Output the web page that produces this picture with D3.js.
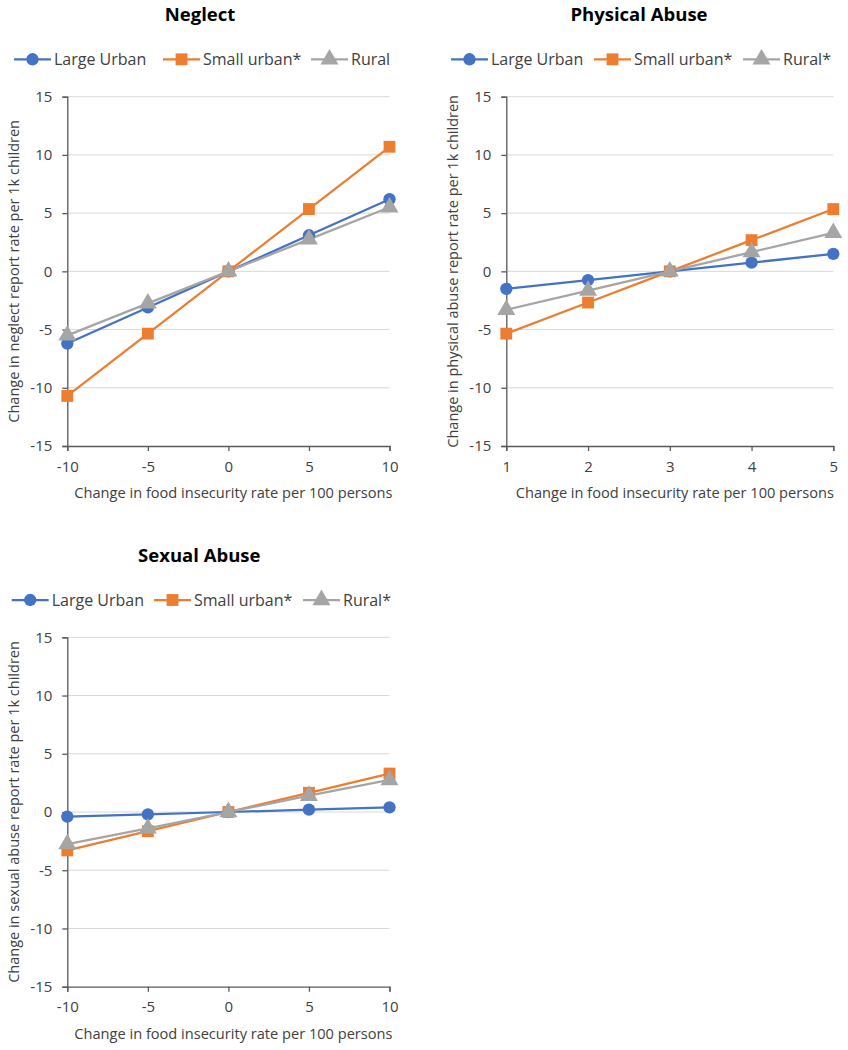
<!DOCTYPE html>
<html><head><meta charset="utf-8">
<script src="https://cdn.jsdelivr.net/npm/d3@7"></script>
<style>body{margin:0;background:#fff}svg{display:block}text{font-family:"Open Sans",sans-serif;fill:#404040}</style>
</head><body><svg id="c" width="848" height="1050"></svg>
<script>
const seriesNames = ["Large Urban", "Small urban*", "Rural"];
const seriesNamesStar = ["Large Urban", "Small urban*", "Rural*"];
const xNeglect = [-10, -5, 0, 5, 10];
const neglectLarge = [-6.2, -3.1, 0, 3.1, 6.2];
const neglectSmall = [-10.7, -5.35, 0, 5.35, 10.7];
const neglectRural = [-5.5, -2.75, 0, 2.75, 5.5];
const xPhysical = [1, 2, 3, 4, 5];
const physicalLarge = [-1.5, -0.75, 0, 0.75, 1.5];
const physicalSmall = [-5.35, -2.68, 0, 2.68, 5.35];
const physicalRural = [-3.3, -1.65, 0, 1.65, 3.3];
const xSexual = [-10, -5, 0, 5, 10];
const sexualLarge = [-0.4, -0.2, 0, 0.2, 0.4];
const sexualSmall = [-3.3, -1.65, 0, 1.65, 3.3];
const sexualRural = [-2.75, -1.4, 0, 1.4, 2.75];
const yTicks = [-15, -10, -5, 0, 5, 10, 15];

const colors = ["#4472C4", "#ED7D31", "#A5A5A5"];
const shapes = [d3.symbolCircle, d3.symbolSquare, d3.symbolTriangle];
const symSizes = [120, 140, 140];
const svg = d3.select("#c");
const fmt = d => String(d);

function panel(o) {
  const g = svg.append("g");
  const x = d3.scaleLinear().domain(d3.extent(o.xs)).range([o.left, o.right]);
  const y = d3.scaleLinear().domain([-15, 15]).range([o.bottom, o.top]);
  g.append("text").attr("x", o.titleX).attr("y", o.titleY).attr("text-anchor", "middle")
    .style("font-weight", "bold").style("font-size", "18.5px").style("fill", "#000").text(o.title);
  g.selectAll(".grid").data(yTicks.filter(t => t !== -15)).enter().append("line")
    .attr("x1", o.left).attr("x2", o.right).attr("y1", d => y(d)).attr("y2", d => y(d))
    .attr("stroke", "#D9D9D9").attr("stroke-width", 1);
  const ya = g.append("g").attr("transform", `translate(${o.left},0)`)
    .call(d3.axisLeft(y).tickValues(yTicks).tickSize(5).tickPadding(10).tickFormat(fmt));
  const xa = g.append("g").attr("transform", `translate(0,${o.bottom})`)
    .call(d3.axisBottom(x).tickValues(o.xs).tickSize(5).tickPadding(10).tickFormat(fmt));
  [ya, xa].forEach(a => {
    a.select(".domain").attr("stroke", "#595959").attr("stroke-width", 1.3);
    a.selectAll(".tick line").attr("stroke", "#595959").attr("stroke-width", 1.3);
    a.selectAll("text").style("font-size", "15px").style("fill", "#404040").style("font-family", '"Open Sans",sans-serif');
  });
  g.append("text").attr("x", (o.left + o.right) / 2 + o.xLabelDx).attr("y", o.bottom + 52).attr("text-anchor", "middle")
    .style("font-size", "14.6px").text("Change in food insecurity rate per 100 persons");
  g.append("text").attr("transform", `translate(${o.left - 48},${(o.top + o.bottom) / 2}) rotate(-90)`)
    .attr("text-anchor", "middle").style("font-size", "14.5px").text(o.yLabel);
  const line = d3.line().x((d, i) => x(o.xs[i])).y(d => y(d));
  o.series.forEach((s, k) => {
    g.append("path").attr("d", line(s)).attr("fill", "none").attr("stroke", colors[k]).attr("stroke-width", 2.25);
  });
  o.series.forEach((s, k) => {
    g.selectAll(null).data(s).enter().append("path")
      .attr("d", d3.symbol().type(shapes[k]).size(symSizes[k]))
      .attr("transform", (d, i) => `translate(${x(o.xs[i])},${y(d)})`)
      .attr("fill", colors[k]);
  });
  o.names.forEach((n, k) => {
    const lx = o.legendX[k];
    g.append("line").attr("x1", lx).attr("x2", lx + 37).attr("y1", o.legendY).attr("y2", o.legendY)
      .attr("stroke", colors[k]).attr("stroke-width", 2.25);
    g.append("path").attr("d", d3.symbol().type(shapes[k]).size(symSizes[k]))
      .attr("transform", `translate(${lx + 18.5},${o.legendY})`).attr("fill", colors[k]);
    g.append("text").attr("x", lx + 40).attr("y", o.legendY).attr("dy", "0.35em")
      .style("font-size", "16px").text(n);
  });
}

panel({title: "Neglect", titleX: 200, titleY: 21, xs: xNeglect,
  series: [neglectLarge, neglectSmall, neglectRural], names: seriesNames,
  left: 67.3, right: 389.5, top: 96.7, bottom: 446, legendY: 59.3, legendX: [14, 163, 311],
  xLabelDx: 5, yLabel: "Change in neglect report rate per 1k children"});
panel({title: "Physical Abuse", titleX: 639, titleY: 21, xs: xPhysical,
  series: [physicalLarge, physicalSmall, physicalRural], names: seriesNamesStar,
  left: 506.3, right: 833.3, top: 96.7, bottom: 446, legendY: 59.3, legendX: [451, 594, 743],
  xLabelDx: 5, yLabel: "Change in physical abuse report rate per 1k children"});
panel({title: "Sexual Abuse", titleX: 199.3, titleY: 562, xs: xSexual,
  series: [sexualLarge, sexualSmall, sexualRural], names: seriesNamesStar,
  left: 67.3, right: 389.5, top: 637.3, bottom: 986.7, legendY: 600, legendX: [11.7, 154, 303],
  xLabelDx: 5, yLabel: "Change in sexual abuse report rate per 1k children"});
</script></body></html>
